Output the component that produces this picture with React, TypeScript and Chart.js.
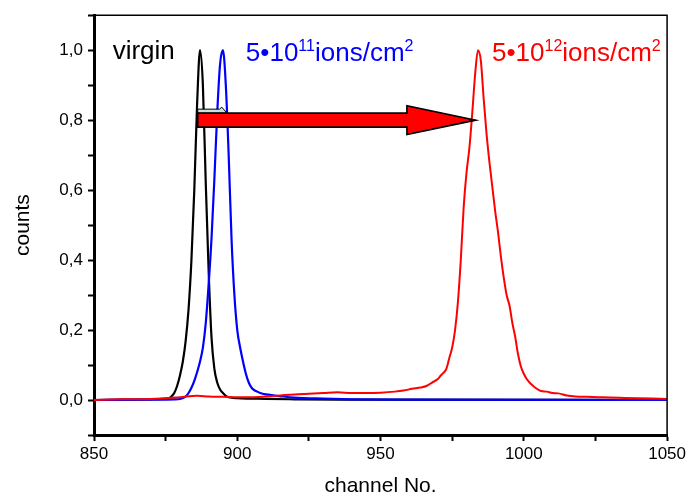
import React, { useEffect, useRef } from 'react';
import { Chart, registerables } from 'chart.js';

Chart.register(...registerables);

// ---------- data ----------
const virginChannels = [850, 860, 870, 874, 876, 877, 878, 879, 880, 881, 882, 883, 884, 885, 886, 887, 888, 889, 890, 891, 892, 893, 894, 895, 896, 897, 900, 905, 910, 920, 935, 1050];
const virginCounts = [0, 0.001, 0.002, 0.003, 0.005, 0.01, 0.02, 0.04, 0.07, 0.11, 0.17, 0.26, 0.4, 0.6, 0.85, 1.0, 0.9, 0.62, 0.37, 0.18, 0.09, 0.05, 0.03, 0.02, 0.012, 0.008, 0.005, 0.004, 0.003, 0.002, 0.001, 0];

const lowDoseChannels = [850, 870, 878, 880, 881, 882, 883, 884, 885, 886, 887, 888, 889, 890, 891, 892, 893, 894, 895, 896, 897, 898, 899, 900, 901, 902, 903, 904, 905, 906, 907, 908, 910, 913, 916, 920, 930, 940, 960, 1050];
const lowDoseCounts = [0, 0.001, 0.002, 0.003, 0.006, 0.01, 0.02, 0.035, 0.055, 0.08, 0.11, 0.15, 0.22, 0.33, 0.46, 0.63, 0.82, 0.96, 1.0, 0.9, 0.7, 0.46, 0.3, 0.2, 0.15, 0.11, 0.075, 0.05, 0.035, 0.028, 0.024, 0.02, 0.016, 0.013, 0.01, 0.007, 0.004, 0.002, 0.001, 0];

const highDoseChannels = [850, 860, 870, 880, 886, 890, 895, 900, 905, 910, 915, 920, 925, 930, 935, 940, 945, 950, 955, 958, 961, 964, 966, 968, 970, 971, 972, 973, 974, 975, 976, 977, 978, 979, 980, 981, 982, 983, 984, 985, 986, 987, 988, 989, 990, 991, 992, 993, 994, 995, 996, 997, 998, 999, 1000, 1001, 1002, 1003, 1004, 1005, 1006, 1008, 1010, 1012, 1015, 1018, 1022, 1026, 1030, 1035, 1040, 1045, 1050];
const highDoseCounts = [0, 0.002, 0.003, 0.008, 0.012, 0.01, 0.009, 0.008, 0.008, 0.01, 0.013, 0.016, 0.018, 0.02, 0.022, 0.02, 0.02, 0.021, 0.024, 0.027, 0.032, 0.036, 0.04, 0.05, 0.06, 0.07, 0.078, 0.09, 0.12, 0.15, 0.2, 0.28, 0.4, 0.55, 0.65, 0.72, 0.82, 0.93, 1.0, 0.97, 0.86, 0.76, 0.68, 0.61, 0.54, 0.48, 0.41, 0.35, 0.3, 0.27, 0.22, 0.18, 0.13, 0.095, 0.075, 0.06, 0.05, 0.042, 0.035, 0.03, 0.026, 0.024, 0.02, 0.019, 0.013, 0.01, 0.009, 0.008, 0.007, 0.006, 0.005, 0.004, 0.003];

const seriesLabels = ['virgin', '5•10¹¹ions/cm²', '5•10¹²ions/cm²'];
const seriesColors = ['#000000', '#0000ff', '#ff0000'];

// annotation texts (data coordinates of left/baseline)
const annotationTexts = [
  { parts: [{ t: 'virgin', sup: false }], x: 856.5, y: 0.975, color: '#000000' },
  { parts: [{ t: '5•10', sup: false }, { t: '11', sup: true }, { t: 'ions/cm', sup: false }, { t: '2', sup: true }], x: 903.0, y: 0.968, color: '#0000ff' },
  { parts: [{ t: '5•10', sup: false }, { t: '12', sup: true }, { t: 'ions/cm', sup: false }, { t: '2', sup: true }], x: 988.9, y: 0.968, color: '#ff0000' },
];

// shift arrow (data coordinates)
const arrowStart = 886.2;
const arrowHeadStart = 959.2;
const arrowTip = 983.2;
const arrowY = 0.8;
const arrowBodyHalf = 0.02;
const arrowHeadHalf = 0.041;

const yTickStep = 0.1;
const xTickStep = 25;

const FONT = '"Liberation Sans", Arial, sans-serif';

function toPoints(xs: number[], ys: number[]) {
  return xs.map((x, i) => ({ x, y: ys[i] }));
}

const decorPlugin = {
  id: 'decor',
  afterDatasetsDraw(chart: any) {
    const { ctx, chartArea, scales } = chart;
    const xs = scales.x;
    const ys = scales.y;
    const px = (v: number) => xs.getPixelForValue(v);
    const py = (v: number) => ys.getPixelForValue(v);

    ctx.save();
    // top & right frame
    ctx.strokeStyle = '#000';
    ctx.lineWidth = 1.5;
    ctx.beginPath();
    ctx.moveTo(chartArea.left, chartArea.top);
    ctx.lineTo(chartArea.right, chartArea.top);
    ctx.lineTo(chartArea.right, chartArea.bottom);
    ctx.stroke();

    // arrow 3D top face
    const x0 = px(arrowStart);
    const xh = px(arrowHeadStart);
    const xt = px(arrowTip);
    const yc = py(arrowY);
    const bt = py(arrowY + arrowBodyHalf);
    const bb = py(arrowY - arrowBodyHalf);
    const ht = py(arrowY + arrowHeadHalf);
    const hb = py(arrowY - arrowHeadHalf);

    ctx.fillStyle = '#cfe0dc';
    ctx.lineWidth = 1;
    ctx.beginPath();
    ctx.moveTo(x0, bt);
    ctx.lineTo(x0, bt - 4);
    ctx.lineTo(px(893.8), bt - 4);
    ctx.lineTo(px(894.6), bt - 6);
    ctx.lineTo(px(896.4), bt);
    ctx.closePath();
    ctx.fill();
    ctx.stroke();

    // main arrow
    ctx.fillStyle = '#ff0000';
    ctx.strokeStyle = '#000';
    ctx.lineWidth = 1.6;
    ctx.lineJoin = 'miter';
    ctx.beginPath();
    ctx.moveTo(x0, bt);
    ctx.lineTo(xh, bt);
    ctx.lineTo(xh, ht);
    ctx.lineTo(xt, yc);
    ctx.lineTo(xh, hb);
    ctx.lineTo(xh, bb);
    ctx.lineTo(x0, bb);
    ctx.closePath();
    ctx.fill();
    ctx.stroke();

    // texts
    ctx.textBaseline = 'alphabetic';
    ctx.textAlign = 'left';
    for (const a of annotationTexts) {
      let cx = px(a.x);
      const by = py(a.y);
      ctx.fillStyle = a.color;
      for (const p of a.parts) {
        ctx.font = (p.sup ? '16px ' : '26px ') + FONT;
        const yy = p.sup ? by - 10 : by;
        ctx.fillText(p.t, cx, yy);
        cx += ctx.measureText(p.t).width;
      }
    }
    ctx.restore();
  },
};

export default function App() {
  const ref = useRef<HTMLCanvasElement | null>(null);

  useEffect(() => {
    if (!ref.current) return;
    const allX = [virginChannels, lowDoseChannels, highDoseChannels];
    const allY = [virginCounts, lowDoseCounts, highDoseCounts];
    const orders = [2, 1, 0];
    const widths = [2.2, 2.2, 2];
    const chart = new Chart(ref.current, {
      type: 'line',
      data: {
        datasets: seriesLabels.map((label, i) => ({
          label,
          data: toPoints(allX[i], allY[i]),
          borderColor: seriesColors[i],
          backgroundColor: seriesColors[i],
          borderWidth: widths[i],
          pointRadius: 0,
          cubicInterpolationMode: 'monotone',
          fill: false,
          order: orders[i],
        })),
      },
      options: {
        responsive: false,
        animation: false,
        devicePixelRatio: 1,
        layout: { padding: { left: 0, right: 20, top: 11, bottom: 0 } },
        plugins: {
          legend: { display: false },
          tooltip: { enabled: false },
        },
        scales: {
          x: {
            type: 'linear',
            min: 850,
            max: 1050,
            afterFit(scale: any) {
              scale.height = 64;
            },
            border: { display: true, color: '#000', width: 3 },
            grid: { drawOnChartArea: false, drawTicks: true, tickLength: 6, tickWidth: 2, tickColor: '#000' },
            ticks: {
              stepSize: xTickStep,
              autoSkip: false,
              maxRotation: 0,
              padding: 3,
              color: '#000',
              font: { family: FONT, size: 17 },
              callback: (v: any) => (Math.round(Number(v)) % 50 === 0 ? String(Math.round(Number(v))) : ''),
            },
            title: {
              display: true,
              text: 'channel No.',
              color: '#000',
              font: { family: FONT, size: 21 },
              padding: { top: 0, bottom: 0 },
            },
          },
          y: {
            min: -0.1,
            max: 1.1,
            afterFit(scale: any) {
              scale.width = 94;
            },
            border: { display: true, color: '#000', width: 3 },
            grid: { drawOnChartArea: false, drawTicks: true, tickLength: 6, tickWidth: 2, tickColor: '#000' },
            ticks: {
              stepSize: yTickStep,
              autoSkip: false,
              padding: 5,
              color: '#000',
              font: { family: FONT, size: 17 },
              callback: (v: any) => {
                const t = Math.round(Number(v) * 10);
                if (t % 2 !== 0) return '';
                return (t / 10).toFixed(1).replace('.', ',');
              },
            },
            title: {
              display: true,
              text: 'counts',
              color: '#000',
              font: { family: FONT, size: 21 },
              padding: { top: 11, bottom: 0 },
            },
          },
        },
      },
      plugins: [decorPlugin],
    } as any);
    return () => chart.destroy();
  }, []);

  return (
    <div style={{ position: 'fixed', left: 0, top: 0, width: 689, height: 499, background: '#fff' }}>
      <canvas ref={ref} width={689} height={499} />
    </div>
  );
}
